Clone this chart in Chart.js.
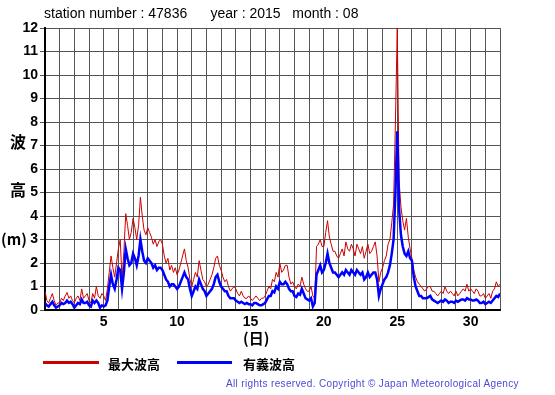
<!DOCTYPE html>
<html>
<head>
<meta charset="utf-8">
<script src="https://cdn.jsdelivr.net/npm/chart.js"></script>
<style>
  body { margin: 0; background: #fff; }
  #wrap { position: relative; width: 555px; height: 395px; font-family: "Liberation Sans", Arial, sans-serif; }
  #c { position: absolute; left: 0; top: 0; }
  .t { position: absolute; white-space: pre; color: #000; }
</style>
</head>
<body>
<div id="wrap">
  <canvas id="c" width="555" height="395"></canvas>
  <div class="t" style="left:44px;top:5px;font-size:14px;">station number : 47836      year : 2015   month : 08</div>
  <div class="t" style="left:10px;top:129px;font-size:16px;font-weight:bold;font-family:'Noto Sans CJK JP';">波</div>
  <div class="t" style="left:10px;top:177px;font-size:16px;font-weight:bold;font-family:'Noto Sans CJK JP';">高</div>
  <div class="t" style="left:1px;top:228px;font-size:15px;font-weight:bold;font-family:'Noto Sans CJK JP';">(m)</div>
  <div class="t" style="left:243px;top:327px;font-size:15px;font-weight:bold;font-family:'Noto Sans CJK JP';">(日)</div>
  <div style="position:absolute;left:43px;top:361px;width:56px;height:3px;background:#cc0000;"></div>
  <div class="t" style="left:108px;top:354px;font-size:13px;font-weight:bold;font-family:'Noto Sans CJK JP';">最大波高</div>
  <div style="position:absolute;left:177px;top:361px;width:55px;height:3px;background:#0000ff;"></div>
  <div class="t" style="left:243px;top:354px;font-size:13px;font-weight:bold;font-family:'Noto Sans CJK JP';">有義波高</div>
  <div class="t" style="left:226px;top:378px;font-size:10px;letter-spacing:0.35px;color:#4a4ad8;">All rights reserved. Copyright © Japan Meteorological Agency</div>
</div>
<script>
// time in days, 3-hour steps (day 1 00h .. day 32 00h)
const days = [];
for (let i = 0; i <= 248; i++) days.push(1 + i / 8);

// 最大波高 (m), one row per day
const maxWave = [
  0.8, 0.4, 0.3, 0.5, 0.7, 0.4, 0.2, 0.3,
  0.3, 0.5, 0.4, 0.6, 0.75, 0.5, 0.6, 0.4,
  0.3, 0.5, 0.6, 0.4, 0.9, 0.5, 0.6, 0.7,
  0.4, 0.3, 0.7, 0.5, 1.0, 0.6, 0.5, 0.7,
  0.6, 0.4, 0.9, 1.6, 2.3, 1.8, 1.4, 2.0,
  2.6, 3.0, 1.3, 2.5, 4.1, 3.6, 3.0, 3.3,
  3.9, 3.5, 3.0, 3.6, 4.8, 4.0, 3.4, 3.2,
  3.5, 3.3, 3.1, 2.8, 3.0, 2.7, 2.9, 3.0,
  2.8, 2.3, 2.0, 2.2, 1.7, 1.9, 1.6, 1.8,
  1.5, 1.7, 2.0, 2.3, 2.6, 2.1, 1.8, 1.3,
  1.0, 1.3, 1.6, 1.4, 2.1, 1.7, 1.3, 1.2,
  1.0, 1.1, 1.3, 1.5, 1.8, 2.2, 2.3, 1.9,
  1.7, 1.4, 1.2, 1.3, 1.0, 0.8, 0.9, 1.0,
  0.9, 0.7, 0.6, 0.8, 0.6, 0.5, 0.5, 0.6,
  0.5, 0.4, 0.5, 0.6, 0.5, 0.4, 0.5, 0.5,
  0.6, 0.8, 1.0, 0.9, 1.3, 1.2, 1.6, 1.4,
  2.0, 1.6, 1.7, 1.9, 1.9, 1.4, 1.1, 1.2,
  1.0, 0.9, 1.1, 1.0, 1.4, 1.1, 0.9, 0.8,
  0.8, 1.0, 0.6, 0.5, 2.7, 2.8, 3.0, 2.7,
  2.7, 3.3, 3.8, 3.1, 2.8, 2.5, 2.5, 2.3,
  2.2, 2.4, 2.6, 2.3, 2.9, 2.6, 2.5, 2.8,
  2.6, 2.3, 2.8, 2.6, 2.4, 2.7, 2.2, 2.5,
  2.8, 2.4, 2.5, 2.7, 2.9, 2.3, 1.2, 1.6,
  1.8, 2.1, 2.3, 2.8, 3.0, 3.7, 4.5, 8.0,
  12.0, 5.5, 4.4, 3.8, 3.4, 3.9, 3.1, 2.6,
  2.2, 1.7, 1.4, 1.2, 1.1, 1.0, 0.9, 0.8,
  0.9, 1.0, 1.0, 0.8, 0.8, 0.7, 0.6, 0.7,
  0.8, 0.7, 1.0, 0.8, 0.7, 0.8, 0.7, 0.6,
  0.8, 0.6, 0.7, 0.8, 0.9, 0.8, 1.1, 0.8,
  0.9, 0.8, 0.7, 0.9, 0.8, 0.6, 0.6, 0.7,
  0.5, 0.6, 0.7, 0.5, 0.8, 0.9, 1.2, 1.0,
  1.1
];

// 有義波高 (m), one row per day
const sigWave = [
  0.3, 0.2, 0.15, 0.25, 0.35, 0.2, 0.1, 0.15,
  0.2, 0.3, 0.25, 0.3, 0.4, 0.3, 0.35, 0.25,
  0.1, 0.2, 0.3, 0.25, 0.45, 0.3, 0.3, 0.35,
  0.2, 0.15, 0.4, 0.3, 0.4, 0.3, 0.1, 0.2,
  0.15, 0.2, 0.4, 1.0, 1.5, 1.1, 0.9, 1.3,
  1.8, 1.7, 0.9, 1.6, 2.6, 2.2, 1.9, 2.0,
  2.4, 2.2, 1.9, 2.3, 3.0, 2.5, 2.1, 2.0,
  2.2, 2.1, 2.0, 1.8, 1.9, 1.7, 1.8, 1.8,
  1.7, 1.5, 1.3, 1.2, 1.0, 1.1, 1.1, 1.0,
  0.9, 1.0, 1.2, 1.4, 1.6, 1.4, 1.3, 0.9,
  0.6, 0.8, 1.0, 0.9, 1.3, 1.1, 0.9, 0.8,
  0.6, 0.7, 0.8, 0.9, 1.1, 1.4, 1.5, 1.2,
  1.0, 0.9, 0.8, 0.8, 0.6, 0.5, 0.5, 0.5,
  0.4, 0.35, 0.3, 0.35, 0.3, 0.25, 0.3, 0.25,
  0.25, 0.2, 0.3, 0.3, 0.25, 0.2, 0.2, 0.25,
  0.3, 0.45, 0.6, 0.6, 0.8, 0.75, 1.0, 0.9,
  1.2, 1.1, 1.1, 1.2, 1.1, 0.9, 0.8, 0.8,
  0.6, 0.55, 0.7, 0.65, 0.9, 0.7, 0.5, 0.45,
  0.4, 0.5, 0.15, 0.3, 1.5, 1.7, 1.9, 1.6,
  1.7, 2.0, 2.4, 2.0, 1.8, 1.6, 1.6, 1.5,
  1.4, 1.5, 1.6, 1.5, 1.7, 1.6, 1.5, 1.7,
  1.6, 1.5, 1.7, 1.6, 1.5, 1.6, 1.3, 1.4,
  1.6, 1.4, 1.5, 1.6, 1.6, 1.3, 0.6, 0.9,
  1.1, 1.3, 1.4, 1.6, 1.9, 2.4, 3.0, 5.0,
  7.6, 4.3, 3.2, 2.7, 2.4, 2.3, 2.5, 2.2,
  2.1, 1.4, 1.0, 0.8, 0.6, 0.6, 0.5, 0.5,
  0.5, 0.55, 0.6, 0.45, 0.4, 0.35, 0.3, 0.35,
  0.4, 0.35, 0.45, 0.4, 0.3, 0.35, 0.35, 0.3,
  0.4, 0.35, 0.4, 0.45, 0.45, 0.4, 0.5, 0.45,
  0.45, 0.4, 0.4, 0.45, 0.4, 0.3, 0.3, 0.35,
  0.25, 0.3, 0.35, 0.3, 0.4, 0.5, 0.6, 0.55,
  0.7
];

const xTicks = [5, 10, 15, 20, 25, 30];

const toXY = arr => arr.map((v, i) => ({x: days[i], y: v}));

new Chart(document.getElementById('c'), {
  type: 'line',
  data: {
    datasets: [{
      label: '有義波高',
      data: toXY(sigWave),
      borderColor: '#0000ff',
      borderWidth: 2.5,
      pointRadius: 0,
      tension: 0,
      order: 1
    }, {
      label: '最大波高',
      data: toXY(maxWave),
      borderColor: '#cc0000',
      borderWidth: 1,
      pointRadius: 0,
      tension: 0,
      order: 2
    }]
  },
  options: {
    responsive: false,
    animation: false,
    layout: {padding: {left: 0, right: 55, top: 28, bottom: 0}},
    plugins: {legend: {display: false}, tooltip: {enabled: false}},
    scales: {
      x: {
        type: 'linear', min: 1, max: 32,
        afterFit: s => { s.height = 85; },
        border: {color: '#000', width: 2},
        grid: {color: '#555', lineWidth: 1, drawTicks: false},
        ticks: {
          stepSize: 1, autoSkip: false, maxRotation: 0, padding: 4,
          color: '#000', font: {family: 'Liberation Sans', size: 14, weight: 'bold'},
          callback: v => xTicks.includes(v) ? v : ''
        }
      },
      y: {
        min: 0, max: 12,
        afterFit: s => { s.width = 45; },
        border: {color: '#000', width: 2},
        grid: {color: '#555', lineWidth: 1, tickLength: 5},
        ticks: {
          stepSize: 1, padding: 2,
          color: '#000', font: {family: 'Liberation Sans', size: 14, weight: 'bold'}
        }
      }
    }
  }
});
</script>
</body>
</html>
